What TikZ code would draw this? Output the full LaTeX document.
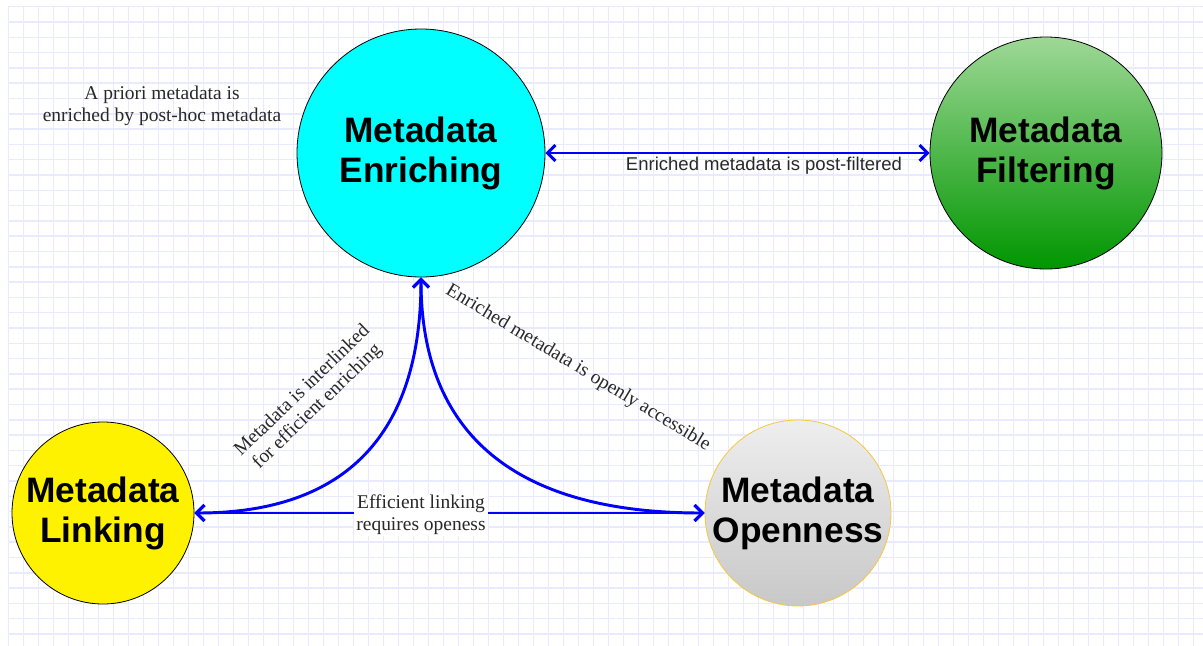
\documentclass[tikz,border=0pt]{standalone}
\usepackage{fontspec}
\setmainfont{Liberation Serif}
\setsansfont{Liberation Sans}
\usetikzlibrary{arrows.meta,calc}
\definecolor{gridc}{RGB}{234,234,255}
\definecolor{arrowblue}{RGB}{0,0,255}
\definecolor{enrfill}{RGB}{0,255,255}
\definecolor{filtop}{RGB}{158,216,150}
\definecolor{filbot}{RGB}{0,150,0}
\definecolor{opentop}{RGB}{238,238,238}
\definecolor{openbot}{RGB}{200,200,200}
\definecolor{openborder}{RGB}{245,200,60}
\definecolor{labelgray}{RGB}{40,40,40}
\tikzset{
  gridline/.style={draw=gridc, line width=1.1pt},
  bigcircle/.style={circle, inner sep=0pt, align=center, draw=black, line width=0.6pt,
    font=\sffamily\bfseries\fontsize{26.5}{30}\selectfont},
  conn/.style={draw=arrowblue, line width=2.2pt,
    {Straight Barb[length=6pt,width=12pt]}-{Straight Barb[length=6pt,width=12pt]}},
  serlabel/.style={font=\fontsize{14.6}{16.3}\selectfont, text=labelgray, align=center, inner sep=0pt},
  sanslabel/.style={font=\sffamily\fontsize{13.9}{16}\selectfont, text=labelgray, inner sep=0pt}
}
\begin{document}
\begin{tikzpicture}[x=0.75pt,y=-0.75pt]
\useasboundingbox (0,0) rectangle (1203,646);
\fill[white] (0,0) rectangle (1203,646);
% grid
\foreach \i in {0,...,79} {\draw[gridline] ({8.3+15*\i},7) -- ({8.3+15*\i},646);}
\foreach \j in {0,...,41} {\draw[gridline] (8.3,{6.7+15.3*\j}) -- (1203,{6.7+15.3*\j});}

% circles
\node[bigcircle, fill=enrfill, minimum size=186pt] (enr) at (421,153) {Metadata\\Enriching};
\node[bigcircle, top color=filtop, bottom color=filbot, minimum size=174pt] (fil) at (1046,153) {Metadata\\Filtering};
\node[bigcircle, fill=yellow, minimum size=136.5pt] (link) at (103,513) {Metadata\\Linking};
\node[bigcircle, draw=openborder, top color=opentop, bottom color=openbot, minimum size=139.5pt] (open) at (798,513) {Metadata\\Openness};

% corner points for the curved connectors
\coordinate (cl) at (enr.south |- link.east);
\coordinate (cr) at (enr.south |- open.west);

% connectors
\draw[conn] (enr.east) -- (fil.west);
\draw[conn] (enr.south) .. controls ($(enr.south)!0.667!(cl)$) and ($(link.east)!0.667!(cl)$) .. (link.east);
\draw[conn] (enr.south) .. controls ($(enr.south)!0.667!(cr)$) and ($(open.west)!0.667!(cr)$) .. (open.west);
\draw[conn] (link.east) -- (open.west);

% labels
\node[serlabel] (lprior) at (162,106) {A priori metadata is\\enriched by post-hoc metadata};
\node[sanslabel] (lpost) at (764,166) {Enriched metadata is post-filtered};
\node[serlabel, fill=white, inner xsep=2pt, inner ysep=1pt] (leff) at (421,515) {Efficient linking\\requires openess};
\node[serlabel, rotate=-31] (lopen) at (578,368) {Enriched metadata is openly accessible};
\node[serlabel, rotate=44] (linter) at (310,399) {Metadata is interlinked\\for efficient enriching};
\end{tikzpicture}
\end{document}
